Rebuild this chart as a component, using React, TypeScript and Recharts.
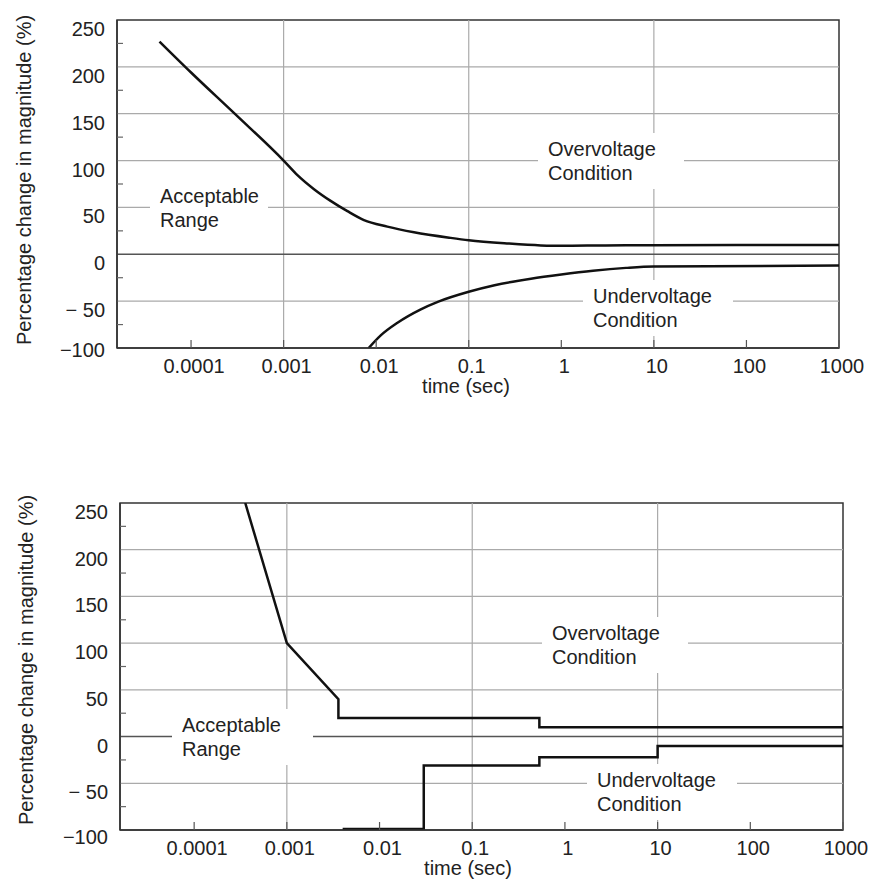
import React from "react";
import { LineChart, Line, XAxis, YAxis, ReferenceLine, ReferenceArea } from "recharts";

// log time axis
const xMin = Math.pow(10, -4.8);
const xMax = 1000;
const xTicks = [0.0001, 0.001, 0.01, 0.1, 1, 10, 100, 1000];
const xTickLabels = ["0.0001", "0.001", "0.01", "0.1", "1", "10", "100", "1000"];
const xGrid = [0.001, 0.1, 10];

const yTicks = [-100, -75, -50, -25, 0, 25, 50, 75, 100, 125, 150, 175, 200, 225, 250];
const yTickLabels: Record<number, string> = {
  250: "250",
  200: "200",
  150: "150",
  100: "100",
  50: "50",
  0: "0",
  [-50]: "\u2212 50",
  [-100]: "\u2212100",
};
const yGrid = [-50, 50, 100, 150, 200];

// upper chart (smooth curves)
const smoothOver = [
  { t: 0.0000456, v: 227 },
  { t: 0.0001, v: 194 },
  { t: 0.0003, v: 149.5 },
  { t: 0.001, v: 100 },
  { t: 0.00141, v: 84.5 },
  { t: 0.00213, v: 69.5 },
  { t: 0.00322, v: 57 },
  { t: 0.00489, v: 46 },
  { t: 0.00738, v: 36.5 },
  { t: 0.0132, v: 29.5 },
  { t: 0.0256, v: 23.5 },
  { t: 0.0638, v: 17.5 },
  { t: 0.1, v: 15 },
  { t: 0.27, v: 11.5 },
  { t: 0.6, v: 9.5 },
  { t: 1, v: 9 },
  { t: 3, v: 9.5 },
  { t: 10, v: 9.7 },
  { t: 1000, v: 10 },
];
const smoothUnder = [
  { t: 0.0083, v: -100 },
  { t: 0.0112, v: -86.5 },
  { t: 0.017, v: -73 },
  { t: 0.03, v: -59 },
  { t: 0.047, v: -50.5 },
  { t: 0.1, v: -40 },
  { t: 0.19, v: -33 },
  { t: 0.47, v: -26 },
  { t: 1, v: -21.5 },
  { t: 2.2, v: -17.5 },
  { t: 5, v: -14.5 },
  { t: 10, v: -13 },
  { t: 1000, v: -12 },
];

// lower chart (stepped curves)
const stepOver = [
  { t: 0.000356, v: 250 },
  { t: 0.001, v: 100 },
  { t: 0.0036, v: 40 },
  { t: 0.0036, v: 20 },
  { t: 0.53, v: 20 },
  { t: 0.53, v: 10 },
  { t: 1000, v: 10 },
];
const stepUnder = [
  { t: 0.004, v: -99 },
  { t: 0.03, v: -99 },
  { t: 0.03, v: -31 },
  { t: 0.53, v: -31 },
  { t: 0.53, v: -22 },
  { t: 10, v: -22 },
  { t: 10, v: -10 },
  { t: 1000, v: -10 },
];

const FONT = "'Liberation Sans', Arial, sans-serif";
const INK = "#222";

const XTick = (props: any) => {
  const { x, y, payload } = props;
  const i = xTicks.indexOf(payload.value);
  return (
    <g>
      <line x1={x} x2={x} y1={y} y2={y - 8} stroke="#555" strokeWidth={1.2} />
      <text x={x + 3} y={y + 25} textAnchor="middle" fontSize={20} fontFamily={FONT} fill={INK}>
        {i >= 0 ? xTickLabels[i] : ""}
      </text>
    </g>
  );
};

const YTick = (props: any) => {
  const { x, y, payload, lastShift } = props;
  const v = payload.value;
  if (v % 50 !== 0) {
    return <line x1={x} x2={x + 6} y1={y} y2={y} stroke="#666" strokeWidth={1.2} />;
  }
  const shift = v === -100 ? lastShift : 9;
  return (
    <text x={x - 12} y={y + shift + 7} textAnchor="end" fontSize={20} fontFamily={FONT} fill={INK}>
      {yTickLabels[v]}
    </text>
  );
};

type PanelProps = {
  over: { t: number; v: number }[];
  under: { t: number; v: number }[];
  curve: "monotone" | "linear";
  height: number;
  margin: { top: number; right: number; left: number; bottom: number };
  lastShift: number;
};

const Panel = ({ over, under, curve, height, margin, lastShift }: PanelProps) => (
  <LineChart width={869} height={height} margin={margin}>
    <XAxis
      dataKey="t"
      type="number"
      scale="log"
      domain={[xMin, xMax]}
      allowDataOverflow
      ticks={xTicks}
      interval={0}
      tickSize={0}
      tickMargin={0}
      tickLine={false}
      axisLine={{ stroke: "#333", strokeWidth: 1.5 }}
      tick={(p: any) => <XTick {...p} />}
      height={40}
    />
    <YAxis
      type="number"
      domain={[-100, 250]}
      allowDataOverflow
      ticks={yTicks}
      interval={0}
      tickSize={0}
      tickMargin={0}
      tickLine={false}
      axisLine={{ stroke: "#333", strokeWidth: 1.5 }}
      tick={(p: any) => <YTick {...p} lastShift={lastShift} />}
      width={60}
    />
    {xGrid.map((g) => (
      <ReferenceLine key={"x" + g} x={g} stroke="#aaa" strokeWidth={1.2} />
    ))}
    {yGrid.map((g) => (
      <ReferenceLine key={"y" + g} y={g} stroke="#aaa" strokeWidth={1.2} />
    ))}
    <ReferenceLine y={0} stroke="#555" strokeWidth={1.5} />
    <ReferenceArea x1={xMin} x2={xMax} y1={-100} y2={250} fill="none" stroke="#333" strokeWidth={1.5} />
    <Line data={over} dataKey="v" type={curve} stroke="#111" strokeWidth={2.5} dot={false} isAnimationActive={false} />
    <Line data={under} dataKey="v" type={curve} stroke="#111" strokeWidth={2.5} dot={false} isAnimationActive={false} />
  </LineChart>
);

// text block with a white box that breaks the grid lines behind it
const RegionLabel = ({ x, y, w, lines }: { x: number; y: number; w: number; lines: string[] }) => (
  <g>
    <rect x={x - 10} y={y - 16} width={w} height={(lines.length - 1) * 24 + 32} fill="#fff" />
    {lines.map((s, i) => (
      <text key={s} x={x} y={y + 7 + i * 24} fontSize={20} fontFamily={FONT} fill={INK}>
        {s}
      </text>
    ))}
  </g>
);

const App = () => {
  return (
    <div style={{ position: "absolute", left: 0, top: 0, width: 869, height: 881, background: "#fff" }}>
      <Panel
        over={smoothOver}
        under={smoothUnder}
        curve="monotone"
        height={440}
        margin={{ top: 20, right: 30, left: 57, bottom: 52 }}
        lastShift={2}
      />
      <Panel
        over={stepOver}
        under={stepUnder}
        curve="linear"
        height={441}
        margin={{ top: 63, right: 26, left: 60, bottom: 11 }}
        lastShift={7}
      />
      <svg width={869} height={881} style={{ position: "absolute", left: 0, top: 0, pointerEvents: "none" }}>
        <RegionLabel x={160} y={196} w={118} lines={["Acceptable", "Range"]} />
        <RegionLabel x={548} y={149} w={146} lines={["Overvoltage", "Condition"]} />
        <RegionLabel x={593} y={296} w={150} lines={["Undervoltage", "Condition"]} />
        <RegionLabel x={182} y={725} w={141} lines={["Acceptable", "Range"]} />
        <RegionLabel x={552} y={633} w={146} lines={["Overvoltage", "Condition"]} />
        <RegionLabel x={597} y={780} w={150} lines={["Undervoltage", "Condition"]} />

        <text transform="translate(31,180) rotate(-90)" textAnchor="middle" fontSize={20} fontFamily={FONT} fill={INK}>
          Percentage change in magnitude (%)
        </text>
        <text transform="translate(33,660) rotate(-90)" textAnchor="middle" fontSize={20} fontFamily={FONT} fill={INK}>
          Percentage change in magnitude (%)
        </text>
        <text x={466} y={393} textAnchor="middle" fontSize={20} fontFamily={FONT} fill={INK}>
          time (sec)
        </text>
        <text x={468} y={875} textAnchor="middle" fontSize={20} fontFamily={FONT} fill={INK}>
          time (sec)
        </text>
      </svg>
    </div>
  );
};

export default App;
